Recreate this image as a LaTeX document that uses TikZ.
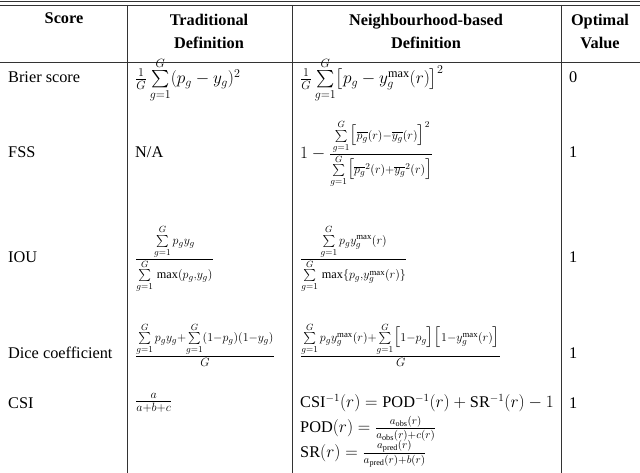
\documentclass[tikz,border=0pt]{standalone}
\usepackage{amsmath}
\usepackage{fontspec}
\setmainfont{Liberation Serif}
\begin{document}
\begin{tikzpicture}[x=1pt,y=-1pt,
  cell/.style={anchor=west,inner sep=0pt,font=\fontsize{16.3}{19}\selectfont},
  mcell/.style={anchor=west,inner sep=0pt,font=\fontsize{17.5}{20}\selectfont},
  head/.style={anchor=center,inner sep=0pt,font=\fontsize{16.3}{19}\selectfont\bfseries,align=center},
  rule/.style={line width=0.8pt,draw=black!80}]
\useasboundingbox (0,0) rectangle (640,473);
\draw[rule] (0,1.5) -- (640,1.5);
\draw[rule] (0,5) -- (640,5);
\draw[rule] (0,62) -- (640,62);
\foreach \x in {127,292,561} \draw[rule] (\x,5) -- (\x,473);
% header
\node[head] (h1) at (64,18) {Score};
\node[head] (h2) at (209,31) {Traditional\\[4pt]Definition};
\node[head] (h3) at (426,31) {Neighbourhood-based\\[4pt]Definition};
\node[head] (h4) at (600,31) {Optimal\\[4pt]Value};
% Brier
\node[cell] (b1) at (8,77) {Brier score};
\node[mcell] (b2) at (135,80) {$\frac{1}{G}\sum\limits_{g=1}^{G}(p_g-y_g)^2$};
\node[mcell] (b3) at (300,80) {$\frac{1}{G}\sum\limits_{g=1}^{G}\bigl[p_g-y_g^{\max}(r)\bigr]^2$};
\node[cell] (b4) at (569,77) {0};
% FSS
\node[cell] (f1) at (8,152) {FSS};
\node[cell] (f2) at (135,152) {N/A};
\node[mcell] (f3) at (300,154) {$1-\frac{\sum\limits_{g=1}^{G}\bigl[\overline{p_g}(r)-\overline{y_g}(r)\bigr]^2}{\sum\limits_{g=1}^{G}\bigl[\overline{p_g}^2(r)+\overline{y_g}^2(r)\bigr]}$};
\node[cell] (f4) at (569,152) {1};
% IOU
\node[cell] (i1) at (8,257) {IOU};
\node[mcell] (i2) at (135,259) {$\frac{\sum\limits_{g=1}^{G}p_gy_g}{\sum\limits_{g=1}^{G}\,\max(p_g,y_g)}$};
\node[mcell] (i3) at (300,259) {$\frac{\sum\limits_{g=1}^{G}p_gy_g^{\max}(r)}{\sum\limits_{g=1}^{G}\,\max\{p_g,y_g^{\max}(r)\}}$};
\node[cell] (i4) at (569,257) {1};
% Dice
\node[cell] (d1) at (8,353) {Dice coefficient};
\node[mcell] (d2) at (135,345) {$\frac{\sum\limits_{g=1}^{G}p_gy_g+\sum\limits_{g=1}^{G}(1-p_g)(1-y_g)}{G}$};
\node[mcell] (d3) at (300,345) {$\frac{\sum\limits_{g=1}^{G}p_gy_g^{\max}(r)+\sum\limits_{g=1}^{G}\bigl[1-p_g\bigr]\bigl[1-y_g^{\max}(r)\bigr]}{G}$};
\node[cell] (d4) at (569,353) {1};
% CSI
\node[cell] (c1) at (8,403) {CSI};
\node[mcell] (c2) at (135,403) {$\frac{a}{a+b+c}$};
\node[cell] (c3) at (300,403) {$\mathrm{CSI}^{-1}(r)=\mathrm{POD}^{-1}(r)+\mathrm{SR}^{-1}(r)-1$};
\node[cell] (c3b) at (300,429) {$\mathrm{POD}(r)=\frac{a_{\mathrm{obs}}(r)}{a_{\mathrm{obs}}(r)+c(r)}$};
\node[cell] (c3c) at (300,454) {$\mathrm{SR}(r)=\frac{a_{\mathrm{pred}}(r)}{a_{\mathrm{pred}}(r)+b(r)}$};
\node[cell] (c4) at (569,403) {1};
\end{tikzpicture}
\end{document}
